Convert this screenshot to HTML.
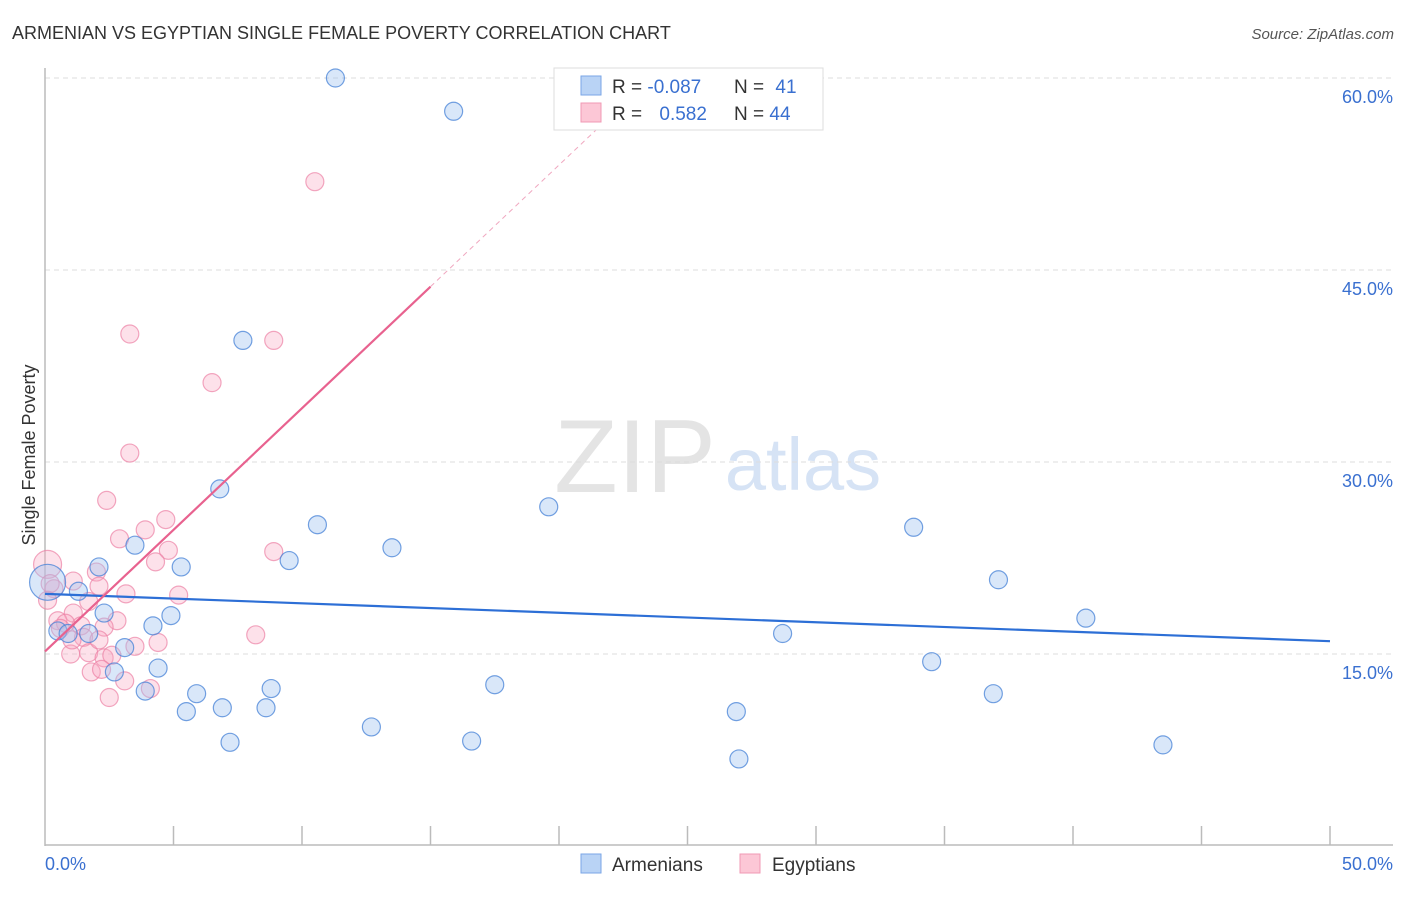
<!DOCTYPE html>
<html><head><meta charset="utf-8"><style>
body{margin:0;background:#fff;font-family:"Liberation Sans",sans-serif;}
svg text{font-family:"Liberation Sans",sans-serif;}
</style></head><body>
<svg id="c" width="1406" height="892" xmlns="http://www.w3.org/2000/svg">
<text x="12" y="39" font-size="18" fill="#333">ARMENIAN VS EGYPTIAN SINGLE FEMALE POVERTY CORRELATION CHART</text>
<text x="1394" y="39" font-size="15" fill="#555" font-style="italic" text-anchor="end">Source: ZipAtlas.com</text>
<text x="35" y="455" font-size="18" fill="#333" transform="rotate(-90 35 455)" text-anchor="middle">Single Female Poverty</text>
<g><text x="635" y="492" font-size="104" fill="#e4e4e4" font-family="Liberation Serif,serif" text-anchor="middle">ZIP</text><text x="803" y="490" font-size="74" fill="#d6e3f5" text-anchor="middle">atlas</text></g>
<g id="grid"></g><g id="axes"></g><g id="pts"></g><g id="trend"></g>
<g>
<rect x="554" y="68" width="269" height="62" fill="#fff" stroke="#ddd"/>
<rect x="581" y="76" width="20" height="19" fill="#b9d3f5" stroke="#7aa6e6"/>
<rect x="581" y="103" width="20" height="19" fill="#fcc7d6" stroke="#f09ab4"/>
<text x="612" y="93" font-size="19" fill="#333">R = <tspan fill="#3a70d0">-0.087</tspan></text>
<text x="734" y="93" font-size="19" fill="#333">N = <tspan fill="#3a70d0" dx="6">41</tspan></text>
<text x="612" y="120" font-size="19" fill="#333">R = <tspan fill="#3a70d0" dx="12">0.582</tspan></text>
<text x="734" y="120" font-size="19" fill="#333">N = <tspan fill="#3a70d0">44</tspan></text>
</g>
<g>
<rect x="581" y="854" width="20" height="19" fill="#b9d3f5" stroke="#7aa6e6"/>
<text x="612" y="871" font-size="19" fill="#333">Armenians</text>
<rect x="740" y="854" width="20" height="19" fill="#fcc7d6" stroke="#f09ab4"/>
<text x="772" y="871" font-size="19" fill="#333">Egyptians</text>
</g>
</svg>
<script>
const blueX=[11.3,15.9,7.7,6.8,10.6,19.6,13.5,9.5,5.3,2.1,3.5,1.3,33.8,37.1,40.5,28.7,4.9,2.3,4.2,1.7,0.5,0.9,3.1,4.4,2.7,3.9,5.9,8.8,5.5,6.9,8.6,34.5,36.9,17.5,12.7,7.2,16.6,26.9,27.0,43.5,0.1];
const blueY=[60.0,57.4,39.5,27.9,25.1,26.5,23.3,22.3,21.8,21.8,23.5,19.9,24.9,20.8,17.8,16.6,18.0,18.2,17.2,16.6,16.8,16.6,15.5,13.9,13.6,12.1,11.9,12.3,10.5,10.8,10.8,14.4,11.9,12.6,9.3,8.1,8.2,10.5,6.8,7.9,20.6];
const pinkX=[10.5,3.3,8.9,6.5,3.3,2.4,4.7,3.9,2.9,4.8,4.3,8.9,0.1,2.0,1.1,2.1,0.35,1.7,3.15,5.2,1.1,2.8,0.5,1.4,0.8,2.3,1.5,3.5,4.4,8.2,1.0,1.7,2.3,2.6,1.8,2.2,3.1,4.1,2.5,0.2,0.6,0.1,1.05,2.1];
const pinkY=[51.9,40.0,39.5,36.2,30.7,27.0,25.5,24.7,24.0,23.1,22.2,23.0,22.0,21.4,20.7,20.3,20.1,19.1,19.7,19.6,18.2,17.6,17.6,17.2,17.4,17.1,16.3,15.6,15.9,16.5,15.0,15.1,14.7,14.9,13.6,13.8,12.9,12.3,11.6,20.5,17.0,19.2,16.1,16.1];
const yTicks=[15,30,45,60];
const xTickLabels=["0.0%","50.0%"];
const blueTrend=[19.7,16.0];
const pinkTrend=[15.2,43.7];
const NS="http://www.w3.org/2000/svg";
const sx=v=>45+v/50*1285, sy=v=>846-v/15*192;
function mk(t,a,p){const e=document.createElementNS(NS,t);for(const k in a)e.setAttribute(k,a[k]);p.appendChild(e);return e;}
const g=document.getElementById('grid');
yTicks.forEach(t=>{
 const l=mk('line',{x1:45,x2:1393,y1:sy(t),y2:sy(t),stroke:'#ddd','stroke-dasharray':'5,4'},g);
 
 
 const tx=mk('text',{x:1393,y:sy(t)+25,'font-size':18,fill:'#3a70d0','text-anchor':'end'},g);
 tx.textContent=t.toFixed(1)+'%';
 
 
});
const ax=document.getElementById('axes');
mk('line',{x1:45,x2:45,y1:68,y2:846,stroke:'#bbb','stroke-width':1.5},ax);
const xl=mk('line',{x1:45,x2:1393,y1:845,y2:845,stroke:'#bbb','stroke-width':1.5},ax);


for(let i=1;i<=10;i++)mk('line',{x1:45+i*128.5,x2:45+i*128.5,y1:826,y2:845,stroke:'#bbb','stroke-width':1.5},ax);
[[45,'start',0],[1393,'end',1]].forEach(([x,a,i])=>{const t=mk('text',{x:x,y:870,'font-size':18,fill:'#3a70d0','text-anchor':a},ax);t.textContent=xTickLabels[i];
 
 });
const p=document.getElementById('pts');
pinkX.forEach((x,i)=>{const r=(i==12)?14:9;const c=mk('circle',{cx:sx(x),cy:sy(pinkY[i]),r:r,fill:'rgba(248,170,195,0.35)',stroke:'rgba(236,130,165,0.7)','stroke-width':1.2},p);
 
 });
blueX.forEach((x,i)=>{const r=(i==40)?18:9;const c=mk('circle',{cx:sx(x),cy:sy(blueY[i]),r:r,fill:'rgba(160,195,240,0.4)',stroke:'rgba(70,130,215,0.75)','stroke-width':1.2},p);
 
 });
const tr=document.getElementById('trend');
const bl=mk('line',{x1:sx(0),y1:sy(blueTrend[0]),x2:sx(50),y2:sy(blueTrend[1]),stroke:'#2d6fd6','stroke-width':2.2},tr);


const pl=mk('line',{x1:sx(0),y1:sy(pinkTrend[0]),x2:sx(15),y2:sy(pinkTrend[1]),stroke:'#e8628f','stroke-width':2.2},tr);


const slope=(pinkTrend[1]-pinkTrend[0])/15;
const pd=mk('line',{x1:sx(15),y1:sy(pinkTrend[1]),x2:sx(21.8),y2:sy(pinkTrend[0]+slope*21.8),stroke:'#f0a8c0','stroke-width':1,'stroke-dasharray':'5,4'},tr);


</script>
</body></html>
